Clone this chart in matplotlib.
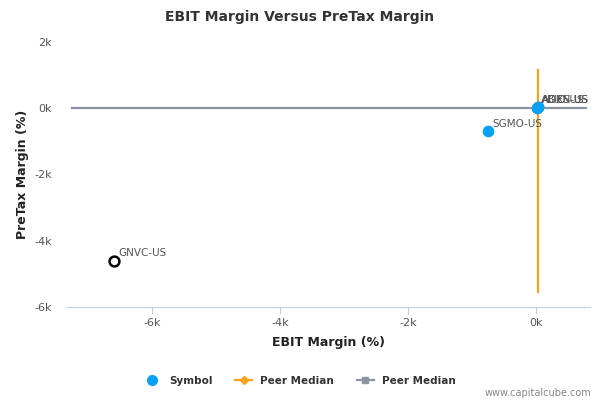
import matplotlib
matplotlib.use("Agg")
import matplotlib.pyplot as plt
from matplotlib.lines import Line2D

# data (values in %)
symbols = ["GNVC-US", "SGMO-US", "ABIO-US", "ADXS-US", "AGEN-US"]
ebit_margin = [-6600, -750, 10, 20, 30]
pretax_margin = [-4600, -700, 20, 30, 40]
hollow = [True, False, False, False, False]

peer_median_x = 20           # orange vertical line
peer_median_x_span = [-5550, 1150]
peer_median_y = 0            # gray horizontal line
peer_median_y_span = [-7250, 770]

x_ticks = [-6000, -4000, -2000, 0]
y_ticks = [-6000, -4000, -2000, 0, 2000]

blue = "#0ba1f2"
orange = "#f7a21b"
gray = "#8e95a1"
text_col = "#555555"

plt.rcParams["font.family"] = ["DejaVu Sans"]

fig = plt.figure(figsize=(6, 4), dpi=100)
ax = fig.add_axes([67 / 600, 1 - 307 / 400, 523 / 600, 265 / 400])

ax.plot(peer_median_y_span, [peer_median_y, peer_median_y], color=gray, lw=1.6, zorder=2)
ax.plot([peer_median_x, peer_median_x], peer_median_x_span, color=orange, lw=1.6, zorder=3)

for name, x, y, h in zip(symbols, ebit_margin, pretax_margin, hollow):
    if h:
        ax.scatter(x, y, s=50, facecolor="white", edgecolor="black", linewidth=1.8, zorder=4)
    else:
        ax.scatter(x, y, s=55, color=blue, zorder=4)
    ax.annotate(name, (x, y), xytext=(3, 3), textcoords="offset points",
                fontsize=7.5, color=text_col, zorder=5)

ax.set_xlim(-7330, 840)
ax.set_ylim(-6000, 2000)
ax.set_xticks(x_ticks)
ax.set_yticks(y_ticks)
ax.set_xticklabels([f"{int(v / 1000)}k" for v in x_ticks])
ax.set_yticklabels([f"{int(v / 1000)}k" for v in y_ticks])
ax.tick_params(axis="x", colors="#c0d0e0", labelcolor=text_col, labelsize=8, length=5, pad=3)
ax.tick_params(axis="y", length=0, labelcolor=text_col, labelsize=8, pad=11)

for side in ["top", "right", "left"]:
    ax.spines[side].set_visible(False)
ax.spines["bottom"].set_color("#c0d0e0")

ax.set_xlabel("EBIT Margin (%)", fontsize=9, fontweight="bold", color="#222222", labelpad=6)
ax.set_ylabel("PreTax Margin (%)", fontsize=9, fontweight="bold", color="#222222", labelpad=4)

fig.text(0.5, 1 - 17 / 400, "EBIT Margin Versus PreTax Margin", ha="center", va="center",
         fontsize=10, fontweight="bold", color="#333333")

handles = [
    Line2D([], [], marker="o", color=blue, ls="none", markersize=7),
    Line2D([], [], marker="D", color=orange, lw=1.6, markersize=4),
    Line2D([], [], marker="s", color=gray, lw=1.6, markersize=5),
]
fig.legend(handles, ["Symbol", "Peer Median", "Peer Median"], loc="center",
           bbox_to_anchor=(0.5, 1 - 381 / 400), ncol=3, frameon=False,
           prop={"size": 7.5, "weight": "bold"}, handlelength=1.6, columnspacing=2.2,
           labelcolor="#333333")

fig.text(0.985, 1 - 393 / 400, "www.capitalcube.com", ha="right", va="center",
         fontsize=7, color="#888888")

fig.savefig("out.png", dpi=100)
